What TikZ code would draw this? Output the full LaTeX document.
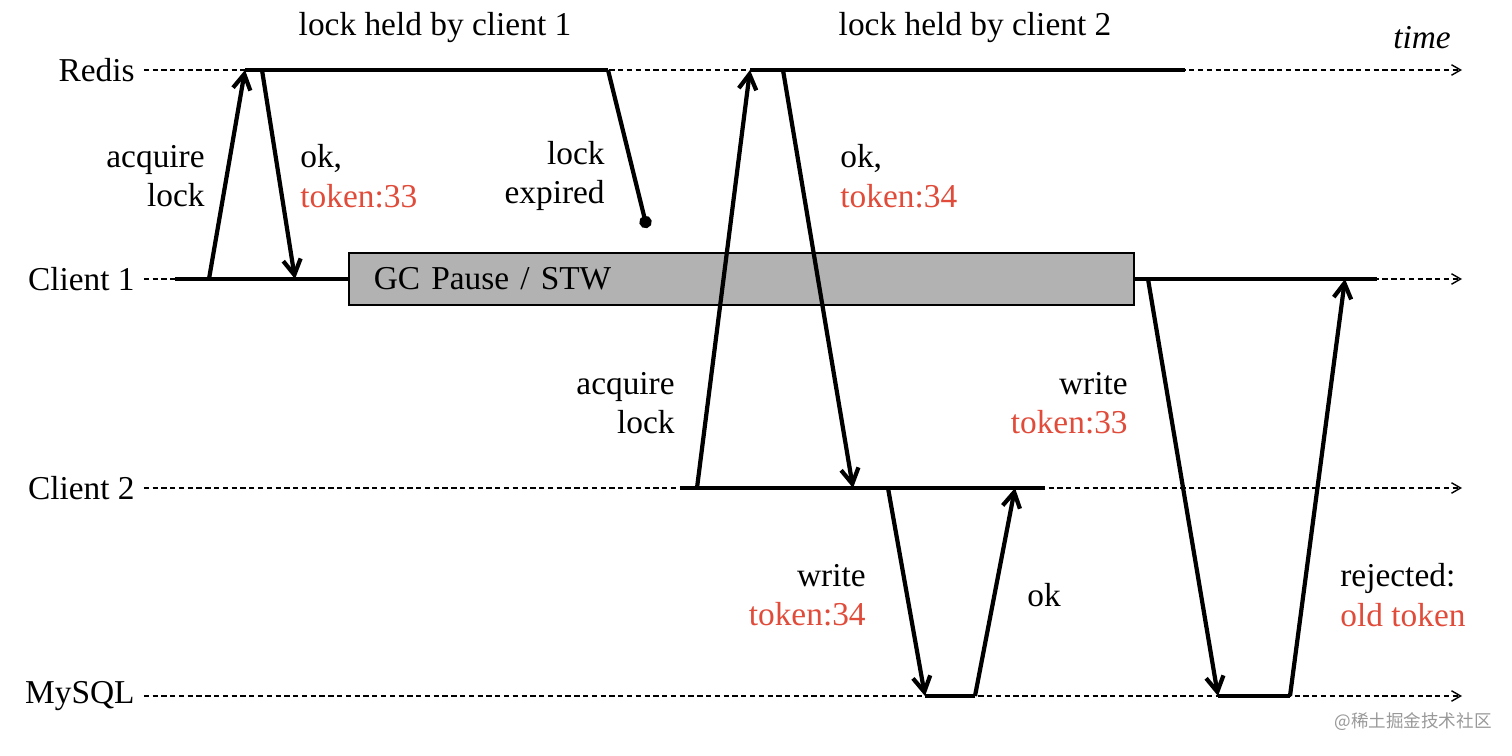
\documentclass[tikz,border=0pt]{standalone}
\usepackage{fontspec}
\setmainfont{Liberation Serif}
\newfontfamily\cjk{Noto Sans CJK SC}
\usetikzlibrary{arrows.meta}
\definecolor{tokred}{HTML}{E04B3A}
\tikzset{
	every node/.style={font=\fontsize{19}{22.5}\selectfont, align=center},
	timeline/.style={densely dashed, line width=0.8pt, -{Straight Barb[angle=60:6pt 0]}},
	held/.style={line width=2.4pt},
	msg/.style={line width=2.4pt, -{Straight Barb[angle=60:10pt 0]}},
	lbl/.style={inner sep=0pt},
}
\newcommand{\tok}[1]{\textcolor{tokred}{#1}}
\begin{document}
\begin{tikzpicture}[x=0.02cm, y=-0.02cm]
	\useasboundingbox (0,0) rectangle (1512,756);

	% lanes
	\node[lbl, anchor=east] (redis) at (135,70) {Redis};
	\node[lbl, anchor=east] (cl1) at (135,279) {Client 1};
	\node[lbl, anchor=east] (cl2) at (135,488) {Client 2};
	\node[lbl, anchor=east] (mysql) at (135,696) {MySQL};
	\coordinate (redisend) at (1462,70);
	\coordinate (cl1end) at (1462,279);
	\coordinate (cl2end) at (1462,488);
	\coordinate (mysqlend) at (1462,696);
	\draw[timeline] ([xshift=5pt]redis.east) -- (redisend);
	\draw[timeline] ([xshift=5pt]cl1.east) -- (cl1end);
	\draw[timeline] ([xshift=5pt]cl2.east) -- (cl2end);
	\draw[timeline] ([xshift=5pt]mysql.east) -- (mysqlend);

	% GC pause
	\node[draw, line width=1pt, fill=black!30, minimum width=785*0.02cm, minimum height=52*0.02cm,
		anchor=west, inner xsep=25*0.02cm, text width=735*0.02cm, align=left] (gc) at (348,279) {GC Pause / STW};

	% solid segments
	\coordinate (r1a) at (245,70); \coordinate (r1b) at (608,70);
	\coordinate (r2a) at (750,70); \coordinate (r2b) at (1185,70);
	\coordinate (c1a) at (175,279); \coordinate (c1b) at (gc.west);
	\coordinate (c1c) at (gc.east); \coordinate (c1d) at (1377,279);
	\coordinate (c2a) at (680,488); \coordinate (c2b) at (1045,488);
	\coordinate (m1a) at (925,696); \coordinate (m1b) at (975,696);
	\coordinate (m2a) at (1218,696); \coordinate (m2b) at (1290,696);
	\draw[held] (r1a) -- (r1b);
	\draw[held] (r2a) -- (r2b);
	\draw[held] (c1a) -- (c1b);
	\draw[held] (c1c) -- (c1d);
	\draw[held] (c2a) -- (c2b);
	\draw[held] (m1a) -- (m1b);
	\draw[held] (m2a) -- (m2b);

	% messages
	\coordinate (acq1) at (209,279);
	\coordinate (ok1s) at (262,70); \coordinate (ok1e) at (295,279);
	\coordinate (expd) at (647,228);
	\coordinate (acq2) at (697,488);
	\coordinate (ok2s) at (783,70); \coordinate (ok2e) at (853,488);
	\coordinate (w34s) at (888,488);
	\coordinate (okme) at (1015,488);
	\coordinate (w33s) at (1148,279);
	\coordinate (rjte) at (1345,279);
	\draw[msg] (acq1) -- (r1a);
	\draw[msg] (ok1s) -- (ok1e);
	\draw[line width=2.4pt, -{Circle[length=7pt]}] (r1b) -- (expd);
	\draw[msg] (acq2) -- (r2a);
	\draw[msg] (ok2s) -- (ok2e);
	\draw[msg] (w34s) -- (m1a);
	\draw[msg] (m1b) -- (okme);
	\draw[msg] (w33s) -- (m2a);
	\draw[msg] (m2b) -- (rjte);

	% labels
	\node (held1) at (435,28) {lock held by client 1};
	\node (held2) at (975,28) {lock held by client 2};
	\node (time) at (1422,38) {\itshape time};
	\node[lbl, anchor=east, align=right] (acqlbl1) at (205,176) {acquire\\lock};
	\node[lbl, anchor=west, align=left] (oklbl1) at (300,176) {ok,\\\tok{token:33}};
	\node[lbl, anchor=east, align=right] (explbl) at (605,176) {lock\\expired};
	\node[lbl, anchor=west, align=left] (oklbl2) at (840,176) {ok,\\\tok{token:34}};
	\node[lbl, anchor=east, align=right] (acqlbl2) at (675,403) {acquire\\lock};
	\node[lbl, anchor=east, align=right] (wlbl33) at (1128,403) {write\\\tok{token:33}};
	\node[lbl, anchor=east, align=right] (wlbl34) at (866,595) {write\\\tok{token:34}};
	\node[lbl, anchor=west] (oklbl3) at (1027,595) {ok};
	\node[lbl, anchor=west, align=left] (rjlbl) at (1340,595) {rejected:\\\tok{old token}};
	\node[lbl, anchor=east, text=black!40, font=\cjk\fontsize{10}{12}\selectfont] (mark) at (1492,722) {@稀土掘金技术社区};
\end{tikzpicture}
\end{document}
